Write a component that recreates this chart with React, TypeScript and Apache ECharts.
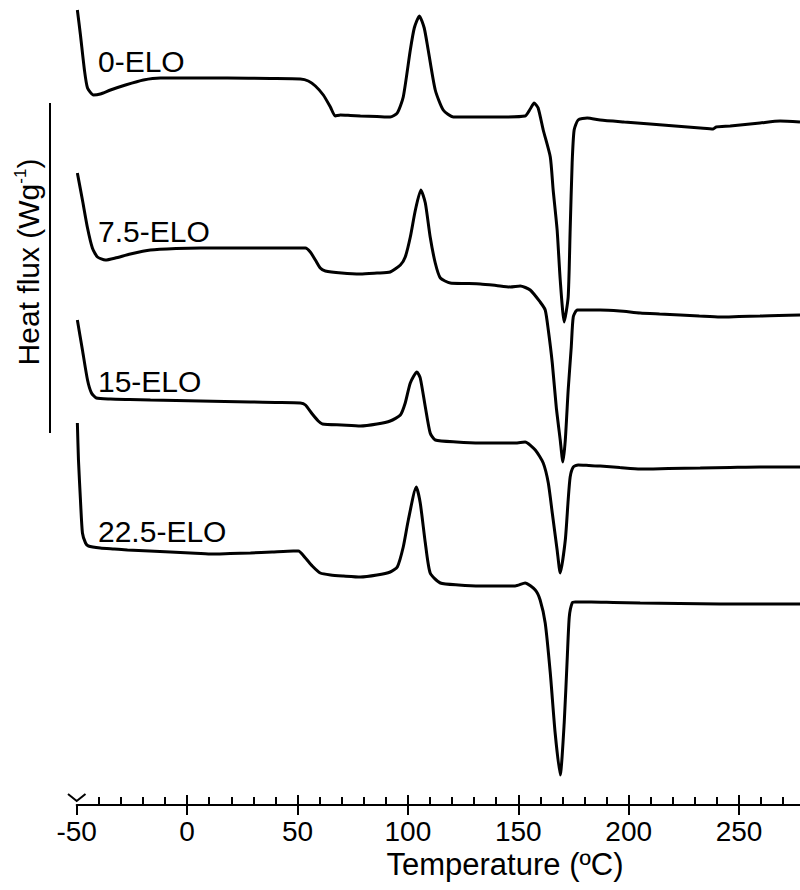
import React, { useEffect, useRef } from "react";
import * as echarts from "echarts";

// Temperature (°C) vs. heat flux (W/g, curves vertically offset for clarity)
const elo0: [number, number][] = [
  [-49.7, 7.95], [-48.3, 7.7], [-46.5, 7.35], [-45.1, 7.17], [-42.4, 7.1], [-39.3, 7.11],
  [-34.7, 7.15], [-27.9, 7.2], [-19.8, 7.25], [-12.1, 7.27], [3.0, 7.27], [18.2, 7.27], [37.7, 7.265],
  [51.3, 7.26], [54.9, 7.24], [58.1, 7.19], [61.7, 7.1], [64.9, 6.98], [67.1, 6.89],
  [69.4, 6.9], [74.0, 6.895], [78.5, 6.89], [86.0, 6.885], [92.0, 6.88], [95.2, 6.92], [97.9, 7.08], [101.1, 7.55],
  [102.9, 7.77], [105.2, 7.89], [107.4, 7.77], [109.2, 7.55], [112.4, 7.15], [116.0, 6.95],
  [120.6, 6.88], [131.0, 6.88], [141.8, 6.88], [153.1, 6.89], [155.4, 6.96], [157.2, 7.02], [159.0, 6.97],
  [161.3, 6.75], [164.5, 6.48], [165.8, 6.15], [167.6, 5.75], [169.0, 5.25], [170.8, 4.83],
  [172.6, 5.08], [173.5, 5.75], [174.4, 6.42], [175.3, 6.75], [177.1, 6.85], [181.2, 6.87],
  [187.1, 6.85], [198.0, 6.83], [209.7, 6.81], [221.0, 6.79], [232.4, 6.77], [238.3, 6.76], [239.6, 6.78], [246.0, 6.79],
  [259.5, 6.82], [268.6, 6.84], [277.6, 6.83],
];

const elo75: [number, number][] = [
  [-49.7, 6.32], [-47.4, 6.05], [-45.1, 5.77], [-42.9, 5.57], [-40.6, 5.48], [-37.0, 5.45],
  [-32.5, 5.47], [-25.7, 5.51], [-16.6, 5.55], [-5.0, 5.565], [6.0, 5.57], [17.0, 5.57], [28.7, 5.57], [41.0, 5.57], [53.6, 5.57],
  [55.8, 5.53], [58.1, 5.45], [60.3, 5.37], [62.6, 5.34], [70.0, 5.32], [78.5, 5.31], [86.0, 5.32], [92.0, 5.33],
  [96.6, 5.4], [98.8, 5.48], [101.1, 5.68], [103.4, 5.95], [105.9, 6.15], [107.9, 6.02],
  [110.1, 5.68], [112.4, 5.42], [114.7, 5.27], [119.2, 5.22], [126.0, 5.215], [132.8, 5.21], [140.0, 5.195], [146.4, 5.18],
  [150.9, 5.19], [155.4, 5.15], [159.9, 5.03], [162.2, 4.95], [163.6, 4.75], [165.4, 4.42],
  [167.2, 3.98], [169.0, 3.65], [170.2, 3.43], [171.3, 3.65], [172.6, 4.15], [174.0, 4.58],
  [174.9, 4.88], [176.7, 4.95], [181.0, 4.95], [187.1, 4.95], [196.0, 4.94], [205.2, 4.92], [214.0, 4.91], [223.3, 4.9], [232.0, 4.89], [241.4, 4.88],
  [250.0, 4.885], [259.5, 4.89], [268.0, 4.895], [277.6, 4.9],
];

const elo15: [number, number][] = [
  [-49.7, 4.85], [-47.4, 4.55], [-45.1, 4.25], [-43.3, 4.12], [-41.1, 4.07], [-34.7, 4.06],
  [-26.0, 4.055], [-16.6, 4.05], [-5.0, 4.045], [6.0, 4.04], [17.0, 4.035], [28.7, 4.03], [40.0, 4.025], [51.3, 4.02], [53.6, 4.0], [56.7, 3.91],
  [59.4, 3.84], [61.3, 3.81], [70.0, 3.8], [78.5, 3.79], [86.0, 3.81], [92.0, 3.84], [96.6, 3.9], [98.8, 4.02],
  [101.1, 4.22], [104.1, 4.33], [105.6, 4.27], [107.9, 3.98], [110.1, 3.72], [112.4, 3.65],
  [122.0, 3.63], [132.8, 3.62], [141.0, 3.62], [148.6, 3.62], [153.1, 3.63], [157.7, 3.55], [161.3, 3.42], [163.6, 3.22],
  [165.4, 2.92], [167.6, 2.55], [169.0, 2.32], [171.3, 2.65], [172.6, 3.05], [173.5, 3.28],
  [174.9, 3.38], [177.1, 3.4], [182.0, 3.395], [187.1, 3.39], [196.0, 3.375], [205.2, 3.36], [218.0, 3.365], [232.4, 3.37], [246.0, 3.375], [259.5, 3.38],
  [268.0, 3.38], [277.6, 3.38],
];

const elo225: [number, number][] = [
  [-49.7, 3.82], [-49.2, 3.45], [-48.3, 3.05], [-47.4, 2.72], [-46.0, 2.62], [-44.7, 2.59],
  [-39.3, 2.57], [-33.0, 2.56], [-27.0, 2.55], [-17.0, 2.54], [-7.6, 2.53], [1.5, 2.52], [10.6, 2.51], [19.5, 2.515], [28.7, 2.52], [38.5, 2.53], [48.1, 2.54],
  [50.4, 2.54], [53.6, 2.47], [56.7, 2.39], [60.3, 2.32], [65.0, 2.3], [70.8, 2.29], [78.5, 2.28], [86.0, 2.3],
  [92.0, 2.33], [95.2, 2.38], [97.9, 2.58], [100.2, 2.85], [103.8, 3.18], [105.6, 3.02],
  [107.9, 2.62], [110.1, 2.32], [114.7, 2.22], [123.0, 2.2], [132.8, 2.19], [141.0, 2.19], [148.6, 2.19], [153.1, 2.22],
  [157.7, 2.15], [159.9, 2.05], [162.2, 1.82], [164.5, 1.32], [166.7, 0.72], [169.0, 0.3],
  [170.8, 0.82], [172.2, 1.48], [173.1, 1.88], [174.4, 2.02], [175.8, 2.03], [183.0, 2.03], [193.0, 2.025], [205.2, 2.02],
  [223.0, 2.015], [241.4, 2.01], [259.0, 2.01], [277.6, 2.01],
];

const curveNames = ["0-ELO", "7.5-ELO", "15-ELO", "22.5-ELO"];
const curveData = [elo0, elo75, elo15, elo225];
const xLabelTicks = [-50, 0, 50, 100, 150, 200, 250];
const majorTicks = [0, 50, 100, 150, 200, 250];
const minorTicks = [
  -40, -30, -20, -10, 10, 20, 30, 40, 60, 70, 80, 90, 110, 120, 130, 140,
  160, 170, 180, 190, 210, 220, 230, 240, 260, 270,
];
const xMin = -50;
const xMax = 277.6;
const xTitle = "Temperature (ºC)";

const FONT = "'Liberation Sans', Arial, Helvetica, sans-serif";

export default function App() {
  const ref = useRef<HTMLDivElement>(null);

  useEffect(() => {
    if (!ref.current) return;
    const chart = echarts.init(ref.current, null, { renderer: "svg" });

    const labelY = [61, 231, 381, 531];
    const tickLine = { color: "#000", width: 2 };

    const baseAxis = {
      type: "value",
      position: "bottom",
      min: xMin,
      max: xMax,
      splitLine: { show: false },
    };

    chart.setOption({
      animation: false,
      backgroundColor: "#fff",
      grid: { left: 76.7, right: 0, top: 0, bottom: 85 },
      xAxis: [
        {
          ...baseAxis,
          axisLine: { show: true, lineStyle: { color: "#000", width: 2 } },
          axisTick: { show: true, inside: false, length: 10, customValues: xLabelTicks, lineStyle: tickLine },
          axisLabel: {
            show: true,
            customValues: xLabelTicks,
            margin: 12,
            color: "#000",
            fontSize: 28,
            fontFamily: FONT,
          },
        },
        {
          ...baseAxis,
          axisLine: { show: false },
          axisTick: { show: true, inside: true, length: 10, customValues: majorTicks, lineStyle: tickLine },
          axisLabel: { show: false },
        },
        {
          ...baseAxis,
          axisLine: { show: false },
          axisTick: { show: true, inside: true, length: 8, customValues: minorTicks, lineStyle: tickLine },
          axisLabel: { show: false },
        },
      ],
      yAxis: { type: "value", min: 0, max: 8.05, show: false },
      series: curveData.map((d, i) => ({
        name: curveNames[i],
        type: "line",
        data: d,
        showSymbol: false,
        smooth: 0.2,
        lineStyle: { color: "#000", width: 3 },
        silent: true,
      })),
      graphic: [
        ...curveNames.map((n, i) => ({
          type: "text",
          x: 98,
          y: labelY[i],
          style: {
            text: n,
            fill: "#000",
            fontSize: 30,
            fontFamily: FONT,
            textAlign: "left",
            textVerticalAlign: "middle",
          },
        })),
        {
          type: "text",
          x: 505,
          y: 864,
          style: {
            text: xTitle,
            fill: "#000",
            fontSize: 31,
            fontFamily: FONT,
            textAlign: "center",
            textVerticalAlign: "middle",
          },
        },
        {
          type: "text",
          x: 28.5,
          y: 262,
          rotation: Math.PI / 2,
          style: {
            text: "{a|Heat flux (Wg}{s|-1}{a|)}",
            fill: "#000",
            fontFamily: FONT,
            textAlign: "center",
            textVerticalAlign: "middle",
            rich: {
              a: { fontSize: 30, fontFamily: FONT, fill: "#000", lineHeight: 34 },
              s: { fontSize: 17, fontFamily: FONT, fill: "#000", verticalAlign: "top", lineHeight: 34 },
            },
          },
        },
        {
          type: "line",
          shape: { x1: 50, y1: 103, x2: 50, y2: 433 },
          style: { stroke: "#000", lineWidth: 2 },
        },
        {
          type: "polyline",
          shape: { points: [[68, 794], [76.7, 801], [85.5, 794]] },
          style: { stroke: "#000", lineWidth: 2, fill: "none" },
        },
      ],
    });

    return () => chart.dispose();
  }, []);

  return (
    <div
      ref={ref}
      style={{ position: "absolute", left: 0, top: 0, width: 800, height: 890, background: "#fff" }}
    />
  );
}
